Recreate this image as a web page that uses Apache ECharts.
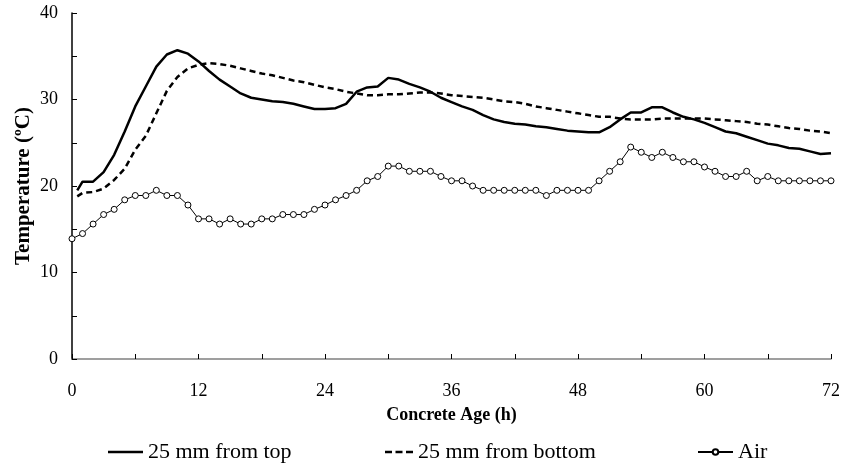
<!DOCTYPE html>
<html>
<head>
<meta charset="utf-8">
<script src="https://cdn.jsdelivr.net/npm/echarts@6/dist/echarts.min.js"></script>
<style>
html,body{margin:0;padding:0;background:#fff;}
#chart{width:844px;height:467px;}
</style>
</head>
<body>
<div id="chart"></div>
<script>
var airHours = [0,1,2,3,4,5,6,7,8,9,10,11,12,13,14,15,16,17,18,19,20,21,22,23,24,25,26,27,28,29,30,31,32,33,34,35,36,37,38,39,40,41,42,43,44,45,46,47,48,49,50,51,52,53,54,55,56,57,58,59,60,61,62,63,64,65,66,67,68,69,70,71,72];
var concreteHours = [0.5,1,2,3,4,5,6,7,8,9,10,11,12,13,14,15,16,17,18,19,20,21,22,23,24,25,26,27,28,29,30,31,32,33,34,35,36,37,38,39,40,41,42,43,44,45,46,47,48,49,50,51,52,53,54,55,56,57,58,59,60,61,62,63,64,65,66,67,68,69,70,71,72];
var topTemp = [19.5,20.5,20.5,21.6,23.6,26.3,29.2,31.5,33.8,35.2,35.7,35.3,34.4,33.3,32.3,31.5,30.7,30.2,30.0,29.8,29.7,29.5,29.2,28.9,28.9,29.0,29.5,30.9,31.4,31.5,32.5,32.3,31.8,31.4,30.9,30.2,29.7,29.2,28.8,28.2,27.7,27.4,27.2,27.1,26.9,26.8,26.6,26.4,26.3,26.2,26.2,26.8,27.7,28.5,28.5,29.1,29.1,28.5,28.0,27.7,27.3,26.8,26.3,26.1,25.7,25.3,24.9,24.7,24.4,24.3,24.0,23.7,23.8];
var bottomTemp = [18.8,19.2,19.3,19.7,20.7,22.0,24.2,25.8,28.4,31.0,32.6,33.6,34.0,34.2,34.1,33.9,33.6,33.3,33.0,32.8,32.5,32.2,32.0,31.7,31.4,31.2,30.9,30.7,30.5,30.5,30.6,30.6,30.7,30.8,30.8,30.7,30.5,30.4,30.3,30.2,30.0,29.8,29.7,29.5,29.2,29.0,28.8,28.6,28.4,28.2,28.0,28.0,27.8,27.7,27.7,27.7,27.8,27.8,27.8,27.8,27.8,27.7,27.6,27.5,27.4,27.2,27.1,26.9,26.7,26.6,26.4,26.3,26.1];
var airTemp = [13.9,14.5,15.6,16.7,17.3,18.4,18.9,18.9,19.5,18.9,18.9,17.8,16.2,16.2,15.6,16.2,15.6,15.6,16.2,16.2,16.7,16.7,16.7,17.3,17.8,18.4,18.9,19.5,20.6,21.1,22.3,22.3,21.7,21.7,21.7,21.1,20.6,20.6,20.0,19.5,19.5,19.5,19.5,19.5,19.5,18.9,19.5,19.5,19.5,19.5,20.6,21.7,22.8,24.5,23.9,23.3,23.9,23.3,22.8,22.8,22.2,21.7,21.1,21.1,21.7,20.6,21.1,20.6,20.6,20.6,20.6,20.6,20.6];
var seriesNames = ['25 mm from top','25 mm from bottom','Air'];
var xLabelEvery = 12;
var yLabelEvery = 10;

function pairs(xs, ys){ return xs.map(function(x,i){ return [x, ys[i]]; }); }

var FONT = 'Liberation Serif';
var legendText = {fontFamily:FONT, fontSize:22, color:'#000'};
var chart = echarts.init(document.getElementById('chart'));
chart.setOption({
  animation:false,
  backgroundColor:'#fff',
  grid:{left:72, right:13, top:13, bottom:108},
  xAxis:{
    type:'value', min:0, max:72, interval:6,
    name:'Concrete Age (h)', nameLocation:'middle', nameGap:47, nameMoveOverlap:false,
    nameTextStyle:{fontFamily:FONT, fontSize:18, fontWeight:'bold', color:'#000'},
    axisLine:{lineStyle:{color:'#808080', width:1.5}},
    axisTick:{inside:true, length:5, lineStyle:{color:'#000'}},
    axisLabel:{margin:23, fontFamily:FONT, fontSize:18, color:'#000',
      formatter:function(v){ return v % xLabelEvery === 0 ? String(v) : ''; }},
    splitLine:{show:false}
  },
  yAxis:{
    type:'value', min:0, max:40, interval:5,
    name:'Temperature (ºC)', nameLocation:'middle', nameGap:38, nameRotate:90, nameMoveOverlap:false,
    nameTextStyle:{fontFamily:FONT, fontSize:21, fontWeight:'bold', color:'#000'},
    axisLine:{show:true, lineStyle:{color:'#000', width:1.5}},
    axisTick:{show:true, inside:true, length:5, lineStyle:{color:'#000'}},
    axisLabel:{margin:14, fontFamily:FONT, fontSize:18, color:'#000',
      formatter:function(v){ return v % yLabelEvery === 0 ? String(v) : ''; }},
    splitLine:{show:false}
  },
  legend:[
    {data:[{name:seriesNames[0], icon:'rect'}], left:108, top:441, padding:0, itemWidth:35, itemHeight:2.5, textStyle:legendText},
    {data:[{name:seriesNames[1], icon:'path://M0,0h7v2.5h-7z M10.5,0h7v2.5h-7z M21,0h7v2.5h-7z'}], left:385, top:441, padding:0, itemWidth:28, itemHeight:2.5,
      lineStyle:{type:[7,3.5], width:2.5}, textStyle:legendText},
    {data:[seriesNames[2]], left:697, top:441, padding:0, itemWidth:35, itemHeight:7, textStyle:legendText}
  ],
  series:[
    {name:seriesNames[0], type:'line', data:pairs(concreteHours, topTemp), symbol:'none',
      lineStyle:{color:'#000', width:2.5}, itemStyle:{color:'#000'}},
    {name:seriesNames[1], type:'line', data:pairs(concreteHours, bottomTemp), symbol:'none',
      lineStyle:{color:'#000', width:2.5, type:[6,4]}, itemStyle:{color:'#000'}},
    {name:seriesNames[2], type:'line', data:pairs(airHours, airTemp), symbol:'circle', symbolSize:6, showAllSymbol:true,
      lineStyle:{color:'#000', width:1}, itemStyle:{color:'#fff', borderColor:'#000', borderWidth:1}}
  ]
});
</script>
</body>
</html>
